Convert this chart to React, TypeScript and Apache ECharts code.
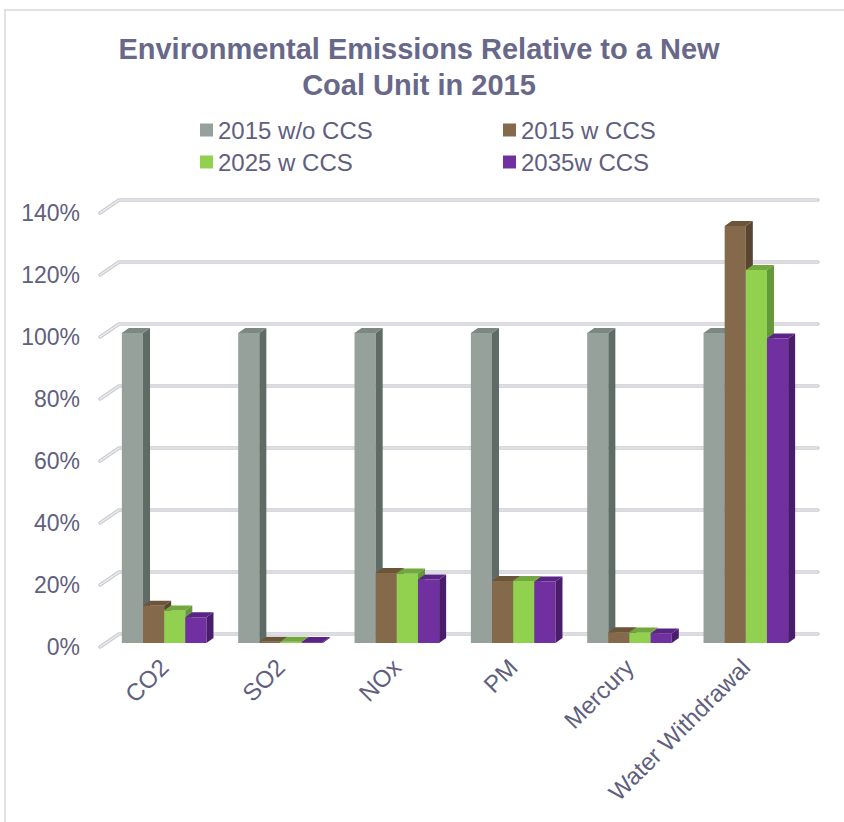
import React, { useEffect, useRef } from "react";
import * as echarts from "echarts";

const categories = ["CO2", "SO2", "NOx", "PM", "Mercury", "Water Withdrawal"];
const seriesNames = ["2015 w/o CCS", "2015 w CCS", "2025 w CCS", "2035w CCS"];
const s2015woCCS = [100, 100, 100, 100, 100, 100];
const s2015wCCS = [12, 0.4, 22.6, 20, 3.5, 134.5];
const s2025wCCS = [10.5, 0.4, 22.4, 20, 3.4, 120.3];
const s2035wCCS = [8.3, 0.3, 20.5, 19.8, 3.1, 98.2];
const yTicks = [0, 20, 40, 60, 80, 100, 120, 140];

const FRONT = ["#95a19a", "#84694a", "#92d050", "#7030a0"];
const SIDE = ["#5f6b65", "#5a4630", "#65983a", "#4a1d6c"];
const TOP = ["#7c8982", "#6c5539", "#73a83e", "#5a2487"];

const FONT = "'Liberation Sans', Arial, sans-serif";
const TEXT = "#60607e";

export default function App() {
  const ref = useRef<HTMLDivElement>(null);
  useEffect(() => {
    const chart = echarts.init(ref.current!, null, { renderer: "svg" });
    const allSeries = [s2015woCCS, s2015wCCS, s2025wCCS, s2035wCCS];
    const DX = 7, DY = -5;

    const barSeries = allSeries.map((vals, s) => ({
      type: "custom",
      name: seriesNames[s],
      xAxisIndex: 1,
      yAxisIndex: 1,
      itemStyle: { color: FRONT[s] },
      data: vals.map((v, i) => [i, v]),
      z: 3,
      renderItem: (params: any, api: any) => {
        const cat = api.value(0);
        const val = api.value(1);
        const top = api.coord([cat, val]);
        const base = api.coord([cat, 0]);
        const band = api.size([1, 0])[0];
        const bw = band / 5.5;
        const x0 = top[0] - 2 * bw + s * bw;
        const x1 = x0 + bw;
        const yt = top[1];
        const yb = base[1];
        return {
          type: "group",
          children: [
            {
              type: "rect",
              shape: { x: x0, y: yt, width: bw, height: yb - yt },
              style: { fill: FRONT[s] },
            },
            {
              type: "polygon",
              shape: {
                points: [
                  [x1, yt],
                  [x1 + DX, yt + DY],
                  [x1 + DX, yb + DY],
                  [x1, yb],
                ],
              },
              style: { fill: SIDE[s] },
            },
            {
              type: "polygon",
              shape: {
                points: [
                  [x0, yt],
                  [x0 + DX, yt + DY],
                  [x1 + DX, yt + DY],
                  [x1, yt],
                ],
              },
              style: { fill: TOP[s] },
            },
          ],
        };
      },
    }));

    const gridSeries = {
      type: "custom",
      name: "grid",
      xAxisIndex: 0,
      yAxisIndex: 0,
      silent: true,
      z: 1,
      data: yTicks.map((v) => [0, v]),
      renderItem: (params: any, api: any) => {
        const cs = params.coordSys;
        const y = api.coord([0, api.value(1)])[1];
        const pts = [
          [cs.x, y],
          [cs.x + 19, y - 13],
          [cs.x + cs.width + 20, y - 13],
        ];
        return {
          type: "group",
          children: [
            {
              type: "polyline",
              shape: { points: pts },
              style: { stroke: "#cbcbd3", lineWidth: 3.5, fill: null, lineCap: "round", lineJoin: "round" },
            },
            {
              type: "polyline",
              shape: { points: pts },
              style: { stroke: "#efeff2", lineWidth: 1.2, fill: null, lineCap: "round", lineJoin: "round" },
            },
          ],
        };
      },
    };

    const legendBase = {
      orient: "vertical",
      top: 113,
      icon: "rect",
      itemWidth: 13,
      itemHeight: 13,
      itemGap: 8,
      textStyle: { fontSize: 24, color: TEXT, fontFamily: FONT, lineHeight: 24 },
    };

    chart.setOption({
      animation: false,
      backgroundColor: "#ffffff",
      title: {
        text: "Environmental Emissions Relative to a New\nCoal Unit in 2015",
        left: 414,
        top: 26,
        textAlign: "center",
        textStyle: { fontSize: 29, fontWeight: "bold", color: "#68688a", fontFamily: FONT, lineHeight: 36 },
      },
      legend: [
        { ...legendBase, data: [seriesNames[0], seriesNames[2]], left: 195 },
        { ...legendBase, data: [seriesNames[1], seriesNames[3]], left: 498 },
      ],
      grid: [
        { left: 100, right: 46, top: 213, bottom: 175 },
        { left: 106, right: 40, top: 209, bottom: 179 },
      ],
      xAxis: [
        {
          type: "category",
          gridIndex: 0,
          data: categories,
          axisLine: { show: false },
          axisTick: { show: false },
          axisLabel: { show: false },
        },
        {
          type: "category",
          gridIndex: 1,
          data: categories,
          axisLine: { show: false },
          axisTick: { show: false },
          axisLabel: {
            rotate: 45,
            margin: 20,
            fontSize: 24,
            color: TEXT,
            fontFamily: FONT,
            interval: 0,
          },
        },
      ],
      yAxis: [
        {
          type: "value",
          gridIndex: 0,
          min: 0,
          max: 140,
          interval: 20,
          axisLine: { show: false },
          axisTick: { show: false },
          splitLine: { show: false },
          axisLabel: { formatter: "{value}%", fontSize: 23, color: TEXT, fontFamily: FONT, margin: 20 },
        },
        {
          type: "value",
          gridIndex: 1,
          min: 0,
          max: 140,
          interval: 20,
          axisLine: { show: false },
          axisTick: { show: false },
          splitLine: { show: false },
          axisLabel: { show: false },
        },
      ],
      graphic: [
        { type: "line", shape: { x1: 5, y1: 10, x2: 5, y2: 822 }, style: { stroke: "#d9d9de", lineWidth: 1.5 } },
        { type: "line", shape: { x1: 4, y1: 10, x2: 844, y2: 10 }, style: { stroke: "#d9d9de", lineWidth: 1.5 } },
      ],
      series: [gridSeries, ...barSeries],
    });
    return () => chart.dispose();
  }, []);
  return <div ref={ref} style={{ position: "fixed", left: 0, top: 0, width: 844, height: 822 }} />;
}
